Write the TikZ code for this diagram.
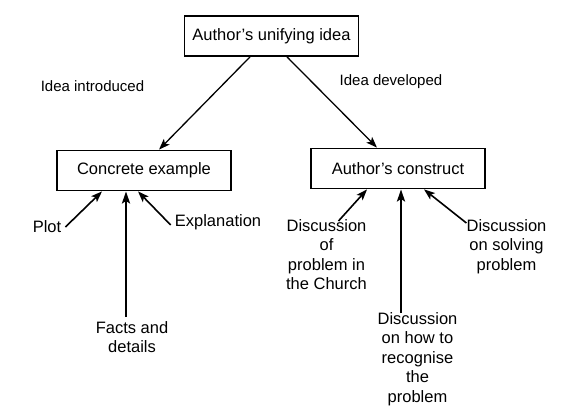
\documentclass[tikz,border=0pt]{standalone}
\usepackage{fontspec}
\setmainfont{Liberation Sans}
\usetikzlibrary{arrows.meta,calc}
\tikzset{
  box/.style={draw, line width=1.8pt, minimum width=174pt, minimum height=40pt, inner sep=0pt, font=\fontsize{16.5}{19.5}\selectfont},
  lbl/.style={align=center, inner sep=0pt, font=\fontsize{16.5}{19.5}\selectfont},
  idl/.style={inner sep=0pt, font=\fontsize{15}{18}\selectfont},
  arr/.style={-{Stealth[length=11pt,width=8pt,inset=2.5pt]}, line width=1.3pt},
  sarr/.style={-{Stealth[length=11pt,width=8pt,inset=2.5pt]}, line width=1.6pt},
  varr/.style={-{Stealth[length=12pt,width=8pt,inset=2.5pt]}, line width=2.4pt}
}
\begin{document}
\begin{tikzpicture}[x=1pt,y=-1pt]
\useasboundingbox (0,0) rectangle (567,416);
\node[box] (top) at (271.5,36) {Author’s unifying idea};
\node[box] (concrete) at (144,170.5) {Concrete example};
\node[box] (construct) at (398,168.5) {Author’s construct};
\node[idl] (intro) at (92.5,86) {Idea introduced};
\node[idl] (dev) at (391,82) {Idea developed};
\draw[arr] ([xshift=-21.5pt]top.south) -- ([xshift=15pt]concrete.north);
\draw[arr] ([xshift=15.5pt]top.south) -- ([xshift=-21pt]construct.north);
% left lower
\node[lbl] (plot) at (47,227) {Plot};
\node[lbl] (expl) at (218,222) {Explanation};
\node[lbl, anchor=north] (facts) at (132,321) {Facts and\\details};
\draw[sarr] ($(plot.east)+(4,0)$) -- ([xshift=-42pt]concrete.south);
\draw[sarr] ($(expl.west)+(-4,3)$) -- ([xshift=-6pt]concrete.south);
\draw[varr] ([xshift=-6pt,yshift=4pt]facts.north) -- ([xshift=-18pt]concrete.south);
% right lower
\node[lbl, anchor=north] (church) at (326.5,219) {Discussion\\of\\problem in\\the Church};
\node[lbl, anchor=north] (recog) at (417.5,312) {Discussion\\on how to\\recognise\\the\\problem};
\node[lbl, anchor=north] (solve) at (506.5,219) {Discussion\\on solving\\problem};
\draw[sarr] ($(church.north)+(12,2)$) -- ([xshift=-31pt]construct.south);
\draw[varr] (401,313) -- ([xshift=3pt]construct.south);
\draw[sarr] ($(solve.north west)+(0,4)$) -- ([xshift=26pt]construct.south);
\end{tikzpicture}
\end{document}
